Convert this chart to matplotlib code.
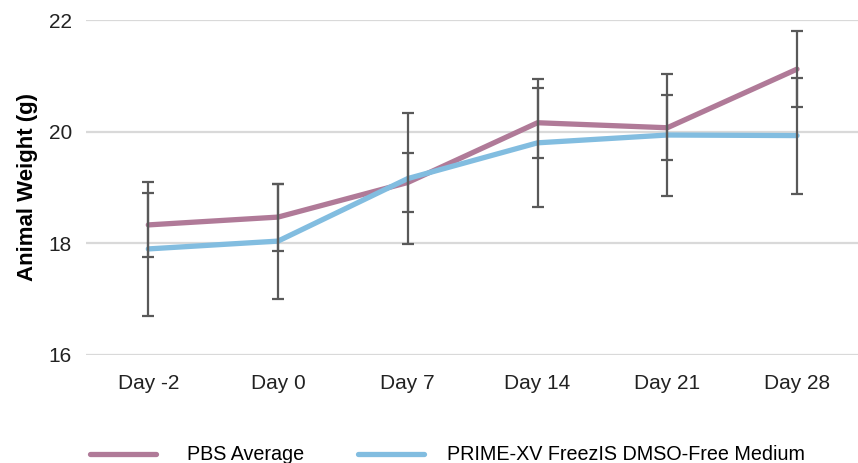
import matplotlib.pyplot as plt
import numpy as np

# values
days = ["Day -2", "Day 0", "Day 7", "Day 14", "Day 21", "Day 28"]
pbs_mean = [18.33, 18.47, 19.09, 20.16, 20.07, 21.12]
pbs_err = [0.57, 0.60, 0.53, 0.63, 0.58, 0.68]
prime_mean = [17.90, 18.04, 19.16, 19.80, 19.94, 19.93]
prime_err = [1.20, 1.03, 1.17, 1.15, 1.09, 1.04]

PBS_COLOR = "#b07a98"
PRIME_COLOR = "#82bde0"
ERR_COLOR = "#595959"

plt.rcParams["font.family"] = ["Liberation Sans", "DejaVu Sans"]

fig = plt.figure(figsize=(8.58, 4.63), dpi=100)
ax = fig.add_axes([86 / 858, 1 - 355 / 463, 772 / 858, 335 / 463])

x = np.arange(len(days))

pbs_line, = ax.plot(x, pbs_mean, color=PBS_COLOR, lw=3.8, solid_capstyle="round",
                    label="PBS Average", zorder=3)
prime_line, = ax.plot(x, prime_mean, color=PRIME_COLOR, lw=3.8, solid_capstyle="round",
                      label="PRIME-XV FreezIS DMSO-Free Medium", zorder=3)

ax.errorbar(x, pbs_mean, yerr=pbs_err, fmt="none", ecolor=ERR_COLOR,
            elinewidth=1.6, capsize=4.3, capthick=1.6, zorder=4)
ax.errorbar(x, prime_mean, yerr=prime_err, fmt="none", ecolor=ERR_COLOR,
            elinewidth=1.6, capsize=4.3, capthick=1.6, zorder=4)

ax.set_ylim(16, 22)
ax.set_yticks([16, 18, 20, 22])
ax.set_xlim(-0.48, 5.47)
ax.set_xticks(x)
ax.set_xticklabels(days)
ax.tick_params(axis="both", length=0, labelsize=15, colors="#222222")
ax.tick_params(axis="x", pad=14)
ax.tick_params(axis="y", pad=10)

ax.grid(axis="y", color="#d9d9d9", lw=1.6)
ax.set_axisbelow(True)
for s in ax.spines.values():
    s.set_visible(False)

ax.set_ylabel("Animal Weight (g)", fontsize=16, fontweight="bold", labelpad=8)

# two separate legend entries so each sits where it does in the reference
fig.legend(handles=[pbs_line], loc="center left",
           bbox_to_anchor=(90 / 858, 1 - 455 / 463), frameon=False,
           fontsize=14.2, handlelength=3.35, handletextpad=1.55,
           borderaxespad=0, borderpad=0)
fig.legend(handles=[prime_line], loc="center left",
           bbox_to_anchor=(358 / 858, 1 - 455 / 463), frameon=False,
           fontsize=14.2, handlelength=3.35, handletextpad=1.15,
           borderaxespad=0, borderpad=0)

fig.savefig("out.png", dpi=100)
